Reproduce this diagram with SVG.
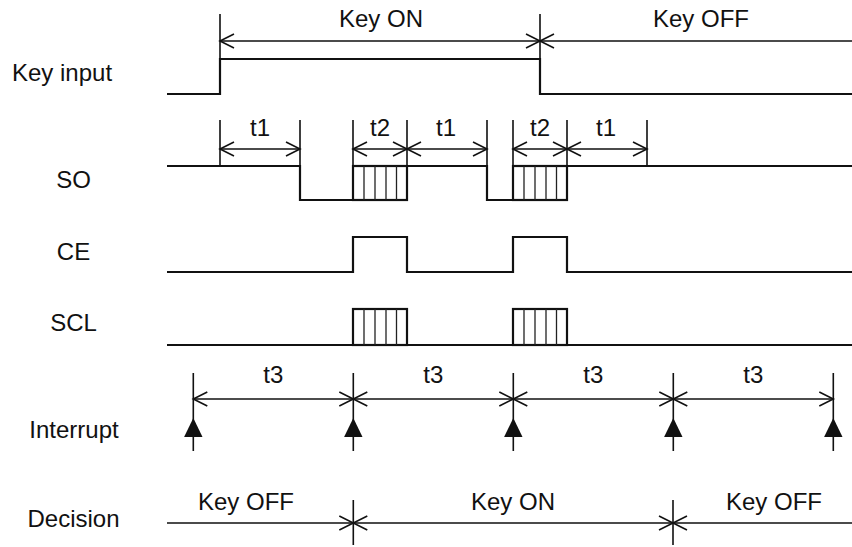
<svg xmlns="http://www.w3.org/2000/svg" width="852" height="547" viewBox="0 0 852 547">
<style>
text{font-family:"Liberation Sans",Arial,sans-serif;font-size:24px;fill:#111}
.lbl{text-anchor:middle}
.sig{fill:none;stroke:#111;stroke-width:2.2;stroke-linejoin:miter}
.dim{fill:none;stroke:#111;stroke-width:1.6}
.hatch{fill:none;stroke:#222;stroke-width:1.3}
.tri{fill:#111;stroke:none}
</style>
<rect width="852" height="547" fill="#fff"/>
<g id="labels">
<text x="12" y="81">Key input</text>
<text class="lbl" x="73.5" y="188">SO</text>
<text class="lbl" x="73.5" y="260">CE</text>
<text class="lbl" x="73.5" y="331">SCL</text>
<text class="lbl" x="74" y="438">Interrupt</text>
<text class="lbl" x="73.5" y="527">Decision</text>
</g>
<g id="key-input">
<path class="sig" d="M167 94 H220 V59 H540 V94 H852"/>
</g>
<g id="so">
<path class="sig" d="M167 166 H300 V200 H353 M407 166 H487 V200 H513 M567 166 H852"/>
<rect class="sig" x="353" y="166" width="54" height="34"/>
<rect class="sig" x="513" y="166" width="54" height="34"/>
<path class="hatch" d="M364 166V200M375 166V200M386 166V200M396.5 166V200M524 166V200M535 166V200M546 166V200M556.5 166V200"/>
</g>
<g id="ce">
<path class="sig" d="M167 272 H353 V237 H407 V272 H513 V237 H567 V272 H852"/>
</g>
<g id="scl">
<path class="sig" d="M167 345 H852"/>
<rect class="sig" x="353" y="309" width="54" height="36"/>
<rect class="sig" x="513" y="309" width="54" height="36"/>
<path class="hatch" d="M364 309V345M375 309V345M386 309V345M396.5 309V345M524 309V345M535 309V345M546 309V345M556.5 309V345"/>
</g>
<g id="interrupt">
<path class="dim" d="M193.3 373V451M353.3 373V451M513.3 373V451M673.3 373V451M833.3 373V451"/>
<path class="tri" d="M193.3 418L202.5 437H184.1Z"/>
<path class="tri" d="M353.3 418L362.5 437H344.1Z"/>
<path class="tri" d="M513.3 418L522.5 437H504.1Z"/>
<path class="tri" d="M673.3 418L682.5 437H664.1Z"/>
<path class="tri" d="M833.3 418L842.5 437H824.1Z"/>
</g>
<g id="connectors">
<path class="dim" d="M220 14V59M540 14V59M220 41H852"/>
<path class="dim" d="M234 34L220 41L234 48M526 34L540 41L526 48M554 34L540 41L554 48"/>
<path class="dim" d="M220 120V166M300 120V166M353 120V166M407 120V166M487 120V166M513 120V166M567 120V166M647 120V166"/>
<path class="dim" d="M220 149H300M353 149H487M513 149H647"/>
<path class="dim" d="M234 142L220 149L234 156M286 142L300 149L286 156M367 142L353 149L367 156M393 142L407 149L393 156M421 142L407 149L421 156M473 142L487 149L473 156M527 142L513 149L527 156M553 142L567 149L553 156M581 142L567 149L581 156M633 142L647 149L633 156"/>
<path class="dim" d="M193.3 399H833.3"/>
<path class="dim" d="M207.3 392L193.3 399L207.3 406M339.3 392L353.3 399L339.3 406M367.3 392L353.3 399L367.3 406M499.3 392L513.3 399L499.3 406M527.3 392L513.3 399L527.3 406M659.3 392L673.3 399L659.3 406M687.3 392L673.3 399L687.3 406M819.3 392L833.3 399L819.3 406"/>
<path class="dim" d="M167 523H852M353.3 500V545M673 500V545"/>
<path class="dim" d="M339.3 516L353.3 523L339.3 530M367.3 516L353.3 523L367.3 530M659 516L673 523L659 530M687 516L673 523L687 530"/>
</g>
<g id="dim-labels">
<text class="lbl" x="381" y="27">Key ON</text>
<text class="lbl" x="701" y="27">Key OFF</text>
<text class="lbl" x="260" y="136">t1</text>
<text class="lbl" x="380" y="136">t2</text>
<text class="lbl" x="446" y="136">t1</text>
<text class="lbl" x="540" y="136">t2</text>
<text class="lbl" x="606" y="136">t1</text>
<text class="lbl" x="273.3" y="383">t3</text>
<text class="lbl" x="433.3" y="383">t3</text>
<text class="lbl" x="593.3" y="383">t3</text>
<text class="lbl" x="753.3" y="383">t3</text>
<text class="lbl" x="246" y="510">Key OFF</text>
<text class="lbl" x="513" y="510">Key ON</text>
<text class="lbl" x="774" y="510">Key OFF</text>
</g>
</svg>
